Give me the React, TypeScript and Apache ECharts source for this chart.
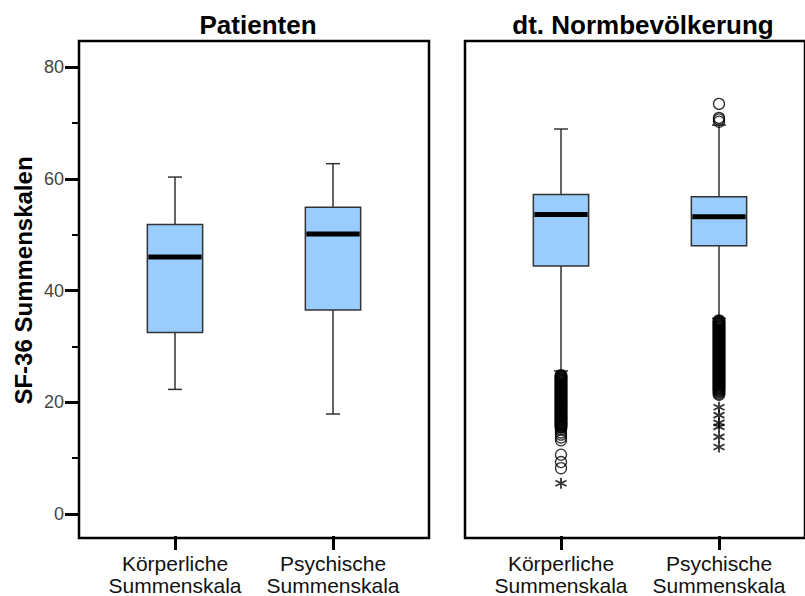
import React, { useEffect, useRef } from "react";
import * as echarts from "echarts";

const FONT = "Liberation Sans, Arial, sans-serif";

const panelTitles = ["Patienten", "dt. Normbevölkerung"];
const categories = ["Körperliche\nSummenskala", "Psychische\nSummenskala"];
const yTickValues = [0, 20, 40, 60, 80];
const yAxisName = "SF-36 Summenskalen";

// [categoryIndex, lowerWhisker, Q1, median, Q3, upperWhisker]
const patientStats = [
  [0, 22.3, 32.5, 46.0, 51.8, 60.3],
  [1, 17.9, 36.5, 50.1, 54.9, 62.7],
];
const normStats = [
  [0, 25.6, 44.4, 53.6, 57.2, 68.9],
  [1, 35.0, 48.0, 53.2, 56.8, 69.6],
];

// dense outlier columns (circles) of the norm population
const normKoerperDense = [
  24.8, 24.6, 24.4, 24.1, 23.9, 23.7, 23.4, 23.2, 23.0, 22.7, 22.5, 22.3, 22.0,
  21.8, 21.6, 21.3, 21.1, 20.9, 20.6, 20.4, 20.2, 19.9, 19.7, 19.5, 19.2, 19.0,
  18.8, 18.5, 18.3, 18.1, 17.8, 17.6, 17.4, 17.1, 16.9, 16.7, 16.4, 16.2, 16.0,
  15.7, 15.5,
];
const normKoerperSparse = [15.1, 14.6, 14.2, 13.7, 13.2, 10.6, 9.3, 8.2];
const normKoerperExtremes = [5.5];

const normPsychHighOutliers = [73.4, 70.9, 70.6, 70.2];
const normPsychDense = [
  34.6, 34.4, 34.1, 33.9, 33.6, 33.4, 33.1, 32.9, 32.6, 32.4, 32.1, 31.9, 31.6,
  31.4, 31.1, 30.9, 30.6, 30.4, 30.1, 29.9, 29.6, 29.4, 29.1, 28.9, 28.6, 28.4,
  28.1, 27.9, 27.6, 27.4, 27.1, 26.9, 26.6, 26.4, 26.1, 25.9, 25.6, 25.4, 25.1,
  24.9, 24.6, 24.4, 24.1, 23.9, 23.6, 23.4, 23.1, 22.9, 22.6, 22.4, 22.1, 21.8,
  21.4,
];
const normPsychExtremes = [19.1, 17.7, 16.3, 15.6, 13.8, 12.0];

const STAR = "path://M5 0 L5 10 M0.67 2.5 L9.33 7.5 M0.67 7.5 L9.33 2.5";

function boxRenderItem(params: any, api: any) {
  const x = api.value(0);
  const lo = api.coord([x, api.value(1)]);
  const q1 = api.coord([x, api.value(2)]);
  const med = api.coord([x, api.value(3)]);
  const q3 = api.coord([x, api.value(4)]);
  const hi = api.coord([x, api.value(5)]);
  const band = api.size([1, 0])[0];
  const bw = band * 0.35;
  const cw = 14;
  const cx = q1[0];
  const wStyle = { stroke: "#333", lineWidth: 1.5 };
  return {
    type: "group",
    children: [
      { type: "line", shape: { x1: cx, y1: hi[1], x2: cx, y2: q3[1] }, style: wStyle },
      { type: "line", shape: { x1: cx, y1: q1[1], x2: cx, y2: lo[1] }, style: wStyle },
      { type: "line", shape: { x1: cx - cw / 2, y1: hi[1], x2: cx + cw / 2, y2: hi[1] }, style: wStyle },
      { type: "line", shape: { x1: cx - cw / 2, y1: lo[1], x2: cx + cw / 2, y2: lo[1] }, style: wStyle },
      {
        type: "rect",
        shape: { x: cx - bw / 2, y: q3[1], width: bw, height: q1[1] - q3[1] },
        style: { fill: "#99ccff", stroke: "#333", lineWidth: 1.5 },
      },
      {
        type: "line",
        shape: { x1: cx - bw / 2 + 1, y1: med[1], x2: cx + bw / 2 - 1, y2: med[1] },
        style: { stroke: "#000", lineWidth: 5 },
      },
    ],
  };
}

const toPts = (idx: number, arr: number[]) => arr.map((v) => [idx, v]);

export default function App() {
  const ref = useRef<HTMLDivElement>(null);
  useEffect(() => {
    document.body.style.margin = "0";
    const chart = echarts.init(ref.current!, null, { renderer: "svg" });

    const frameGrid = (left: number) => ({
      left,
      top: 41,
      width: 350,
      height: 497,
      show: true,
      borderColor: "#000",
      borderWidth: 2.5,
      backgroundColor: "transparent",
    });
    const dataGrid = (left: number) => ({ left, top: 67, width: 316, height: 447 });
    const tickGrid = (left: number) => ({ left, top: 41, width: 316, height: 497 });

    const hiddenCat = (gridIndex: number) => ({
      type: "category",
      gridIndex,
      data: categories,
      boundaryGap: true,
      show: false,
    });
    const catAxis = (gridIndex: number) => ({
      type: "category",
      gridIndex,
      data: categories,
      boundaryGap: true,
      axisLine: { show: false },
      axisTick: {
        show: true,
        interval: 0,
        alignWithLabel: true,
        length: 14,
        lineStyle: { color: "#000", width: 3 },
      },
      axisLabel: {
        interval: 0,
        margin: 16,
        fontSize: 21,
        lineHeight: 22,
        color: "#111",
        fontFamily: FONT,
      },
      splitLine: { show: false },
    });

    const circleStyle = { color: "rgba(0,0,0,0)", borderColor: "#000", borderWidth: 1.3 };
    const denseStyle = { color: "rgba(0,0,0,0)", borderColor: "#000", borderWidth: 2.4 };
    const starStyle = { color: "rgba(0,0,0,0)", borderColor: "#000", borderWidth: 1.8 };

    chart.setOption({
      animation: false,
      title: [
        {
          text: panelTitles[0],
          left: 253,
          top: 7,
          textAlign: "center",
          textStyle: { fontSize: 26, fontWeight: "bold", color: "#000", fontFamily: FONT },
        },
        {
          text: panelTitles[1],
          left: 638,
          top: 7,
          textAlign: "center",
          textStyle: { fontSize: 26, fontWeight: "bold", color: "#000", fontFamily: FONT },
        },
      ],
      grid: [
        frameGrid(79),
        dataGrid(96),
        frameGrid(465),
        dataGrid(482),
        tickGrid(96),
        tickGrid(482),
      ],
      xAxis: [
        { type: "value", gridIndex: 0, show: false },
        hiddenCat(1),
        { type: "value", gridIndex: 2, show: false },
        hiddenCat(3),
        catAxis(4),
        catAxis(5),
      ],
      yAxis: [
        { type: "value", gridIndex: 0, show: false },
        {
          type: "value",
          gridIndex: 1,
          min: yTickValues[0],
          max: yTickValues[yTickValues.length - 1],
          interval: 20,
          offset: 17,
          axisLine: { show: false },
          axisTick: { show: true, length: 14, lineStyle: { color: "#000", width: 3 } },
          minorTick: { show: true, splitNumber: 2, length: 7, lineStyle: { color: "#000", width: 2 } },
          axisLabel: { margin: 15, fontSize: 18, color: "#444", fontFamily: FONT },
          splitLine: { show: false },
          name: yAxisName,
          nameLocation: "middle",
          nameGap: 44,
          nameTextStyle: {
            fontSize: 24,
            fontWeight: "bold",
            color: "#000",
            fontFamily: FONT,
            padding: [0, 0, 0, 20],
          },
        },
        { type: "value", gridIndex: 2, show: false },
        {
          type: "value",
          gridIndex: 3,
          min: yTickValues[0],
          max: yTickValues[yTickValues.length - 1],
          show: false,
          splitLine: { show: false },
        },
        { type: "value", gridIndex: 4, show: false },
        { type: "value", gridIndex: 5, show: false },
      ],
      series: [
        {
          type: "custom",
          xAxisIndex: 1,
          yAxisIndex: 1,
          renderItem: boxRenderItem,
          encode: { x: 0, y: [1, 2, 3, 4, 5] },
          data: patientStats,
        },
        {
          type: "custom",
          xAxisIndex: 3,
          yAxisIndex: 3,
          renderItem: boxRenderItem,
          encode: { x: 0, y: [1, 2, 3, 4, 5] },
          data: normStats,
        },
        {
          type: "scatter",
          xAxisIndex: 3,
          yAxisIndex: 3,
          symbol: "circle",
          symbolSize: 10.5,
          itemStyle: denseStyle,
          data: [...toPts(0, normKoerperDense), ...toPts(1, normPsychDense)],
        },
        {
          type: "scatter",
          xAxisIndex: 3,
          yAxisIndex: 3,
          symbol: "circle",
          symbolSize: 11,
          itemStyle: circleStyle,
          data: [...toPts(0, normKoerperSparse), ...toPts(1, normPsychHighOutliers)],
        },
        {
          type: "scatter",
          xAxisIndex: 3,
          yAxisIndex: 3,
          symbol: STAR,
          symbolSize: 11,
          itemStyle: starStyle,
          data: [...toPts(0, normKoerperExtremes), ...toPts(1, normPsychExtremes)],
        },
      ],
    });
    return () => chart.dispose();
  }, []);
  return <div ref={ref} style={{ width: 805, height: 596 }} />;
}
